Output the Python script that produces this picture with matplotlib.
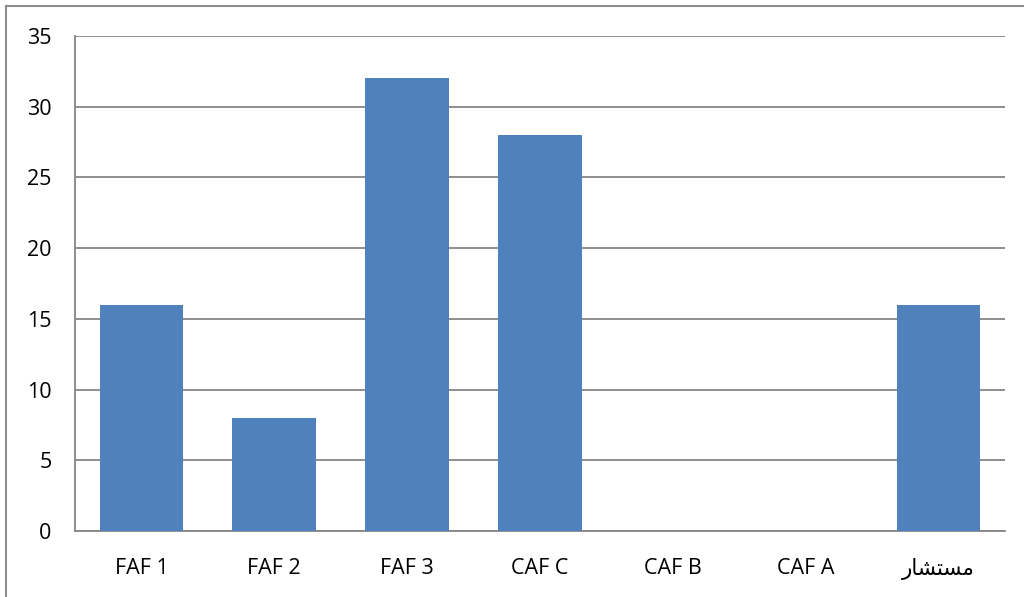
import matplotlib
matplotlib.use("Agg")
import matplotlib.pyplot as plt
from matplotlib.lines import Line2D

categories = ["FAF 1", "FAF 2", "FAF 3", "CAF C", "CAF B", "CAF A",
              "\uFEAD\uFE8E\uFEB8\uFE98\uFEB4\uFEE3"]  # مستشار, shaped glyphs in visual order
values = [16, 8, 32, 28, 0, 0, 16]
y_ticks = [0, 5, 10, 15, 20, 25, 30, 35]

bar_color = "#4F81BD"
grid_color = "#868686"

plt.rcParams["font.family"] = ["Open Sans", "DejaVu Sans"]

fig = plt.figure(figsize=(10.24, 5.97), dpi=100)
ax = fig.add_axes([75 / 1024, 66 / 597, 930 / 1024, 495 / 597])

x = list(range(len(categories)))
ax.bar(x, values, width=0.63, color=bar_color, zorder=3)

ax.set_xlim(-0.5, len(categories) - 0.5)
ax.set_ylim(0, 35)
ax.set_yticks(y_ticks)
ax.set_xticks(x)
ax.set_xticklabels(categories)
for lbl in ax.get_xticklabels():
    lbl.set_fontfamily(["Open Sans", "DejaVu Sans"])

ax.yaxis.grid(True, color=grid_color, linewidth=1.3, zorder=0)
ax.tick_params(axis="both", length=0, labelsize=15.5, colors="black")
ax.tick_params(axis="y", pad=17)
ax.tick_params(axis="x", pad=19.5)

for side in ("top", "right"):
    ax.spines[side].set_visible(False)
for side in ("left", "bottom"):
    ax.spines[side].set_color(grid_color)
    ax.spines[side].set_linewidth(1.3)

# outer frame of the chart area
fig.add_artist(Line2D([6 / 1024, 1.0], [1 - 6 / 597, 1 - 6 / 597],
                      transform=fig.transFigure, color="#8C8C8C", linewidth=1.5))
fig.add_artist(Line2D([6 / 1024, 6 / 1024], [0.0, 1 - 6 / 597],
                      transform=fig.transFigure, color="#8C8C8C", linewidth=1.5))

fig.savefig("out.png", dpi=100)
